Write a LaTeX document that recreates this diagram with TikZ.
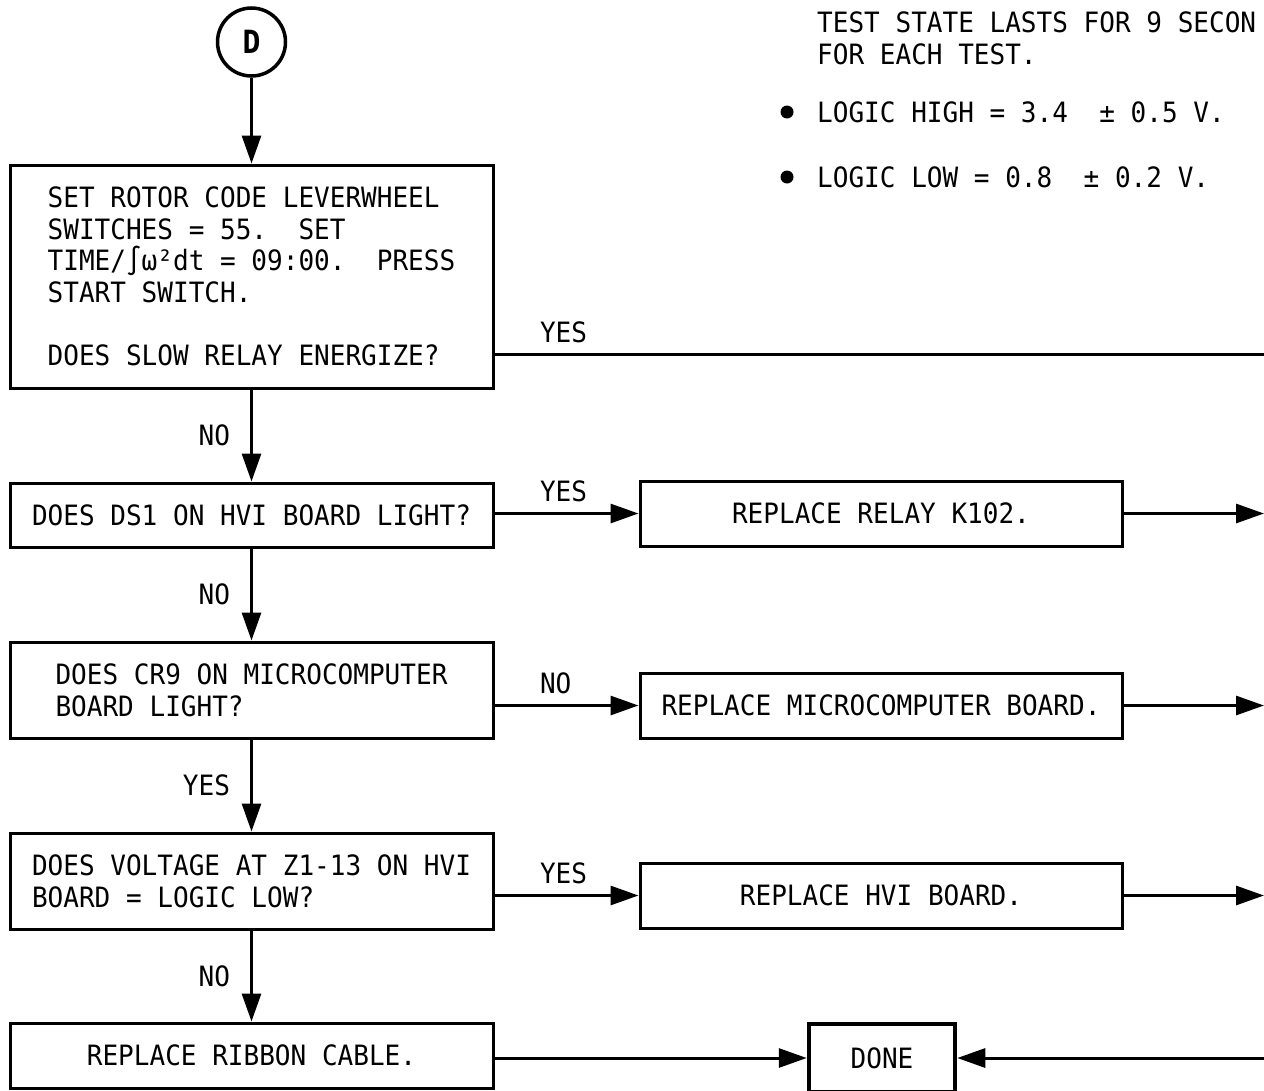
\documentclass[tikz,border=0pt]{standalone}
\usepackage{fontspec}
\usetikzlibrary{arrows.meta,positioning}
\newfontfamily\chartfont[FakeStretch=0.93]{DejaVu Sans Mono}
\newcommand\chartsize{\fontsize{28}{31.6}\selectfont}
\frenchspacing

\begin{document}
\begin{tikzpicture}[x=1pt,y=-1pt,>={Triangle[length=28pt,width=19pt]},line join=miter]
\useasboundingbox[fill=white] (0,0) rectangle (1264,1090);
\tikzset{lbl/.style={font=\chartfont\chartsize,inner sep=0pt},
  stepbox/.style={draw,line width=3pt,align=left,inner sep=0pt,font=\chartfont\chartsize},
  decision/.style={stepbox,minimum width=483pt},
  action/.style={stepbox,minimum width=482pt,minimum height=65pt},
  flow/.style={->,line width=3pt},
  wire/.style={line width=3pt},
  vlbl/.style={lbl,midway,left=20pt},
  hlbl/.style={lbl,pos=0,anchor=south west,xshift=44pt,yshift=10pt}}
% notes, top right
\node[lbl,align=left,anchor=west] (note) at (817,38.5) {TEST STATE LASTS FOR 9 SECON\\FOR EACH TEST.};
\fill (787,112) circle[radius=6.5pt]; \node[lbl,anchor=west] (high) at (817,112) {LOGIC HIGH = 3.4~ ± 0.5 V.};
\fill (787,177) circle[radius=6.5pt]; \node[lbl,anchor=west] (low) at (817,177) {LOGIC LOW = 0.8~ ± 0.2 V.};
% blocks
\node[circle,draw,line width=3.5pt,minimum size=68pt,inner sep=0pt,font=\chartfont\bfseries\fontsize{32}{32}\selectfont] (conD) at (251.5,42) {D};
\node[decision,minimum height=223pt] (setup) at (251.5,276.5) {SET ROTOR CODE LEVERWHEEL\\SWITCHES = 55.~ SET\\TIME/∫ω²dt = 09:00.~ PRESS\\START SWITCH.\\[31.6pt]DOES SLOW RELAY ENERGIZE?};
\node[decision,minimum height=64pt] (ds1) at (251.5,515) {DOES DS1 ON HVI BOARD LIGHT?};
\node[action] (relay) at (881,513.5) {REPLACE RELAY K102.};
\node[decision,minimum height=96pt] (cr9) at (251.5,690) {DOES CR9 ON MICROCOMPUTER\\BOARD LIGHT?};
\node[action] (micro) at (881,705.5) {REPLACE MICROCOMPUTER BOARD.};
\node[decision,minimum height=96pt] (zlow) at (251.5,881) {DOES VOLTAGE AT Z1-13 ON HVI\\BOARD = LOGIC LOW?};
\node[action] (hvi) at (881,895.5) {REPLACE HVI BOARD.};
\node[decision,minimum height=65pt] (ribbon) at (251.5,1055.5) {REPLACE RIBBON CABLE.};
\node[action,minimum width=146pt,minimum height=68pt,line width=4.5pt] (done) at (882,1058) {DONE};
% connectors
\coordinate (rim) at (1264,0);
\coordinate (slowyes) at (1264,354);
\draw[flow] (conD.south) -- (setup.north);
\draw[wire] (slowyes -| setup.east) -- node[hlbl]{YES} (slowyes);
\draw[flow] (setup.south) -- node[vlbl]{NO} (ds1.north);
\draw[flow] (ds1.east |- relay) -- node[hlbl]{YES} (relay.west);
\draw[flow] (relay.east) -- (relay.east -| rim);
\draw[flow] (ds1.south) -- node[vlbl]{NO} (cr9.north);
\draw[flow] (cr9.east |- micro) -- node[hlbl]{NO} (micro.west);
\draw[flow] (micro.east) -- (micro.east -| rim);
\draw[flow] (cr9.south) -- node[vlbl]{YES} (zlow.north);
\draw[flow] (zlow.east |- hvi) -- node[hlbl]{YES} (hvi.west);
\draw[flow] (hvi.east) -- (hvi.east -| rim);
\draw[flow] (zlow.south) -- node[vlbl]{NO} (ribbon.north);
\draw[flow] (ribbon.east |- done) -- (done.west);
\draw[flow] (done.east -| rim) -- (done.east);
\end{tikzpicture}
\end{document}
